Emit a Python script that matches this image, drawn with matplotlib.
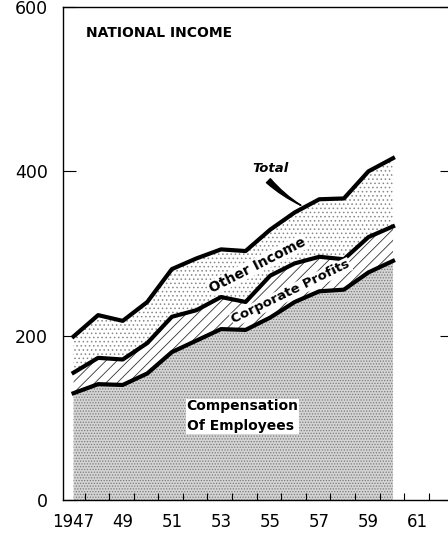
import matplotlib
matplotlib.use('Agg')
import matplotlib.pyplot as plt
import numpy as np

# national income components, billions of dollars
years = [1947, 1948, 1949, 1950, 1951, 1952, 1953, 1954, 1955, 1956, 1957, 1958, 1959, 1960]
compensation = [130, 141, 140, 154, 180, 194, 208, 207, 222, 241, 254, 256, 277, 291]
corp_profits = [25, 32, 31, 37, 43, 37, 39, 34, 51, 47, 42, 37, 43, 42]
other_income = [44, 52, 47, 50, 58, 63, 58, 62, 56, 62, 70, 74, 80, 83]

year_ticks = [1947, 1949, 1951, 1953, 1955, 1957, 1959, 1961]
year_labels = ['1947', '49', '51', '53', '55', '57', '59', '61']
value_ticks = [0, 200, 400, 600]

plt.rcParams['font.family'] = ['DejaVu Sans']
plt.rcParams['hatch.linewidth'] = 0.6

comp = np.array(compensation)
comp_prof = comp + np.array(corp_profits)
total = comp_prof + np.array(other_income)

fig = plt.figure(figsize=(4.48, 5.33), dpi=100)
ax = fig.add_axes([0.1406, 0.0619, 0.8684, 0.925])

# stacked bands
ax.fill_between(years, 0, comp, facecolor='#d4d4d4', edgecolor='#7a7a7a', hatch='......', linewidth=0)
ax.fill_between(years, comp, comp_prof, facecolor='white', edgecolor='#333333', hatch='///', linewidth=0)
ax.fill_between(years, comp_prof, total, facecolor='white', edgecolor='#888888', hatch='....', linewidth=0)

for s in (comp, comp_prof, total):
    ax.plot(years, s, color='black', linewidth=3, solid_joinstyle='round')

ax.set_xlim(1946.57, 1962.4)
ax.set_ylim(0, 600)

ax.set_xticks(year_ticks)
ax.set_xticklabels(year_labels, fontsize=12)
ax.tick_params(axis='x', length=0, pad=9)
ax.set_xticks([y + 0.45 for y in range(1947, 1962)], minor=True)
ax.tick_params(axis='x', which='minor', direction='in', length=5, width=0.8)

ax.set_yticks(value_ticks)
ax.set_yticklabels([str(v) for v in value_ticks], fontsize=12.5)
ax.tick_params(axis='y', direction='in', length=9, width=0.8, pad=11, right=True)

for sp in ax.spines.values():
    sp.set_linewidth(1)

ax.text(0.059, 0.947, 'NATIONAL INCOME', transform=ax.transAxes, fontsize=10,
        fontweight='bold', va='center', ha='left')

box = dict(facecolor='white', edgecolor='none', pad=0.5)

ax.text(1955.0, 404, 'Total', fontsize=9.5, fontweight='bold', style='italic',
        ha='center', va='center')
ax.annotate('', xy=(1956.35, 357), xytext=(1954.85, 391),
            arrowprops=dict(arrowstyle='wedge,tail_width=0.4', color='black',
                            connectionstyle='arc3,rad=0.08'))

ax.text(1954.5, 286, 'Other Income', fontsize=10, fontweight='bold', rotation=27,
        ha='center', va='center', bbox=box)
ax.text(1955.85, 253, 'Corporate Profits', fontsize=9.5, fontweight='bold', rotation=26,
        ha='center', va='center', bbox=box)
ax.text(1951.6, 102, 'Compensation\nOf Employees', fontsize=10, fontweight='bold',
        ha='left', va='center', linespacing=1.5, bbox=box)

fig.savefig('out.png', dpi=100)
